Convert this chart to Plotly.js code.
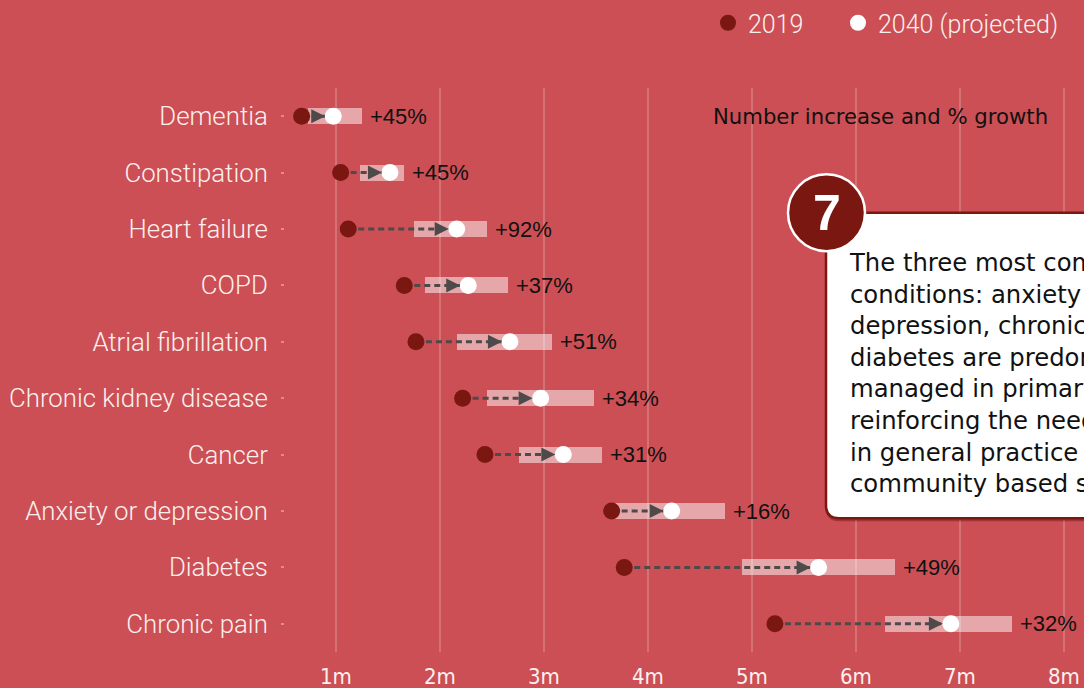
<!DOCTYPE html>
<html>
<head>
<meta charset="utf-8">
<script src="https://cdn.plot.ly/plotly-3.0.1.min.js"></script>
<style>
  html, body { margin: 0; padding: 0; background: #CB4F54; }
  #chart { width: 1084px; height: 688px; }
</style>
</head>
<body>
<div id="chart"></div>
<script>
// ---- Data (millions of people) ----
const conditions = [
  "Dementia", "Constipation", "Heart failure", "COPD", "Atrial fibrillation",
  "Chronic kidney disease", "Cancer", "Anxiety or depression", "Diabetes", "Chronic pain"
];
const values2019 = [0.67, 1.045, 1.118, 1.657, 1.769, 2.218, 2.433, 3.651, 3.772, 5.221];
const values2040 = [0.974, 1.519, 2.161, 2.272, 2.673, 2.968, 3.186, 4.228, 5.641, 6.913];
const rangeLow  = [0.734, 1.231, 1.750, 1.859, 2.161, 2.449, 2.760, 3.683, 4.907, 6.282];
const rangeHigh = [1.247, 1.657, 2.449, 2.657, 3.074, 3.481, 3.555, 4.740, 6.375, 7.503];
const growthLabels = ["+45%", "+45%", "+92%", "+37%", "+51%", "+34%", "+31%", "+16%", "+49%", "+32%"];
const tickValues = [1, 2, 3, 4, 5, 6, 7, 8];
const tickLabels = ["1m", "2m", "3m", "4m", "5m", "6m", "7m", "8m"];
const headerText = "Number increase and % growth";
const calloutNumber = "7";
const calloutLines = [
  "The three most common",
  "conditions: anxiety or",
  "depression, chronic pain and",
  "diabetes are predominantly",
  "managed in primary care,",
  "reinforcing the need for investment",
  "in general practice and",
  "community based services."
];

// ---- Colours ----
const BG = "#CB4F54";
const DARK_RED = "#7A1711";
const ARROW = "#4F4A4A";
const LIGHT_TEXT = "#FCEFEF";

// ---- Layout geometry ----
const M = { l: 285, r: 0, t: 87, b: 36 };
const W = 1084, H = 688;
const PW = W - M.l - M.r, PH = H - M.t - M.b;
const px2x = p => (p - M.l) / PW;
const py2y = p => 1 - (p - M.t) / PH;

// Dashed connector segments
const segX = [], segY = [];
conditions.forEach((c, i) => {
  segX.push(values2019[i], values2040[i], null);
  segY.push(c, c, null);
});

const traces = [
  {
    type: "bar", orientation: "h",
    y: conditions,
    base: rangeLow,
    x: rangeHigh.map((h, i) => h - rangeLow[i]),
    width: 0.285,
    marker: { color: "rgba(255,255,255,0.5)", line: { width: 0 } },
    showlegend: false, hoverinfo: "skip"
  },
  {
    type: "scatter", mode: "lines",
    x: segX, y: segY,
    line: { color: ARROW, width: 3, dash: "6px,4px" },
    showlegend: false, hoverinfo: "skip", connectgaps: false
  },
  {
    type: "scatter", mode: "markers", name: "2019", legend: "legend",
    x: values2019, y: conditions,
    marker: { color: DARK_RED, size: 17 }
  },
  {
    type: "scatter", mode: "markers", name: "2040 (projected)", legend: "legend2",
    x: values2040, y: conditions,
    marker: { color: "#FFFFFF", size: 17 }
  }
];

const annotations = [];
// arrowheads
conditions.forEach((c, i) => {
  annotations.push({
    x: values2040[i], y: c, xref: "x", yref: "y",
    ax: -14, ay: 0, text: "", showarrow: true,
    arrowhead: 2, arrowsize: 1.4, arrowwidth: 2, standoff: 8,
    arrowcolor: ARROW
  });
});
// growth labels
conditions.forEach((c, i) => {
  annotations.push({
    x: rangeHigh[i], y: c, xref: "x", yref: "y",
    text: growthLabels[i], showarrow: false,
    xanchor: "left", yanchor: "middle", xshift: 6,
    font: { family: "Liberation Sans, Arial, sans-serif", size: 22, color: "#111111" }
  });
});
// header
annotations.push({
  x: px2x(1050), y: conditions[0], xref: "paper", yref: "y",
  text: headerText, showarrow: false, xanchor: "right", yanchor: "middle",
  font: { family: "DejaVu Sans, sans-serif", size: 21.2, color: "#111111" }
});
// callout text
annotations.push({
  x: px2x(847), y: py2y(245), xref: "paper", yref: "paper",
  text: calloutLines.join("<br>"), showarrow: false, align: "left",
  xanchor: "left", yanchor: "top",
  font: { family: "DejaVu Sans, sans-serif", size: 24.3, color: "#111111" }
});
// callout number
annotations.push({
  x: px2x(826.5), y: py2y(212), xref: "paper", yref: "paper",
  text: "<b>" + calloutNumber + "</b>", showarrow: false,
  xanchor: "center", yanchor: "middle",
  font: { family: "Liberation Sans, Arial, sans-serif", size: 50, color: "#FFFFFF" }
});

// rounded rectangle path in pixel coords -> paper
function roundedRect(x0, y0, x1, y1, r) {
  const P = (x, y) => px2x(x).toFixed(5) + "," + py2y(y).toFixed(5);
  return "M" + P(x0 + r, y0) + " L" + P(x1 - r, y0) + " Q" + P(x1, y0) + " " + P(x1, y0 + r) +
    " L" + P(x1, y1 - r) + " Q" + P(x1, y1) + " " + P(x1 - r, y1) +
    " L" + P(x0 + r, y1) + " Q" + P(x0, y1) + " " + P(x0, y1 - r) +
    " L" + P(x0, y0 + r) + " Q" + P(x0, y0) + " " + P(x0 + r, y0) + " Z";
}

const shapes = [
  { type: "path", xref: "paper", yref: "paper", path: roundedRect(826, 214, 1140, 521, 13),
    fillcolor: "rgba(110,20,20,0.45)", line: { width: 0 }, layer: "above" },
  { type: "path", xref: "paper", yref: "paper", path: roundedRect(826, 212, 1140, 518, 13),
    fillcolor: "#FFFFFF", line: { color: DARK_RED, width: 2.5 }, layer: "above" },
  { type: "circle", xref: "paper", yref: "paper",
    x0: px2x(826.5 - 38.5), x1: px2x(826.5 + 38.5), y0: py2y(212 + 38.5), y1: py2y(212 - 38.5),
    fillcolor: DARK_RED, line: { color: "#FFFFFF", width: 2.5 }, layer: "above" }
];

const legendFont = { family: "Roboto, sans-serif", weight: 300, size: 25, color: LIGHT_TEXT };
const layout = {
  width: W, height: H,
  margin: M,
  paper_bgcolor: BG, plot_bgcolor: BG,
  showlegend: true,
  legend: {
    orientation: "h", x: px2x(708), xanchor: "left", y: py2y(22), yanchor: "middle",
    xref: "paper", yref: "paper",
    bgcolor: "rgba(0,0,0,0)", itemsizing: "trace", font: legendFont
  },
  legend2: {
    orientation: "h", x: px2x(838), xanchor: "left", y: py2y(22), yanchor: "middle",
    xref: "paper", yref: "paper",
    bgcolor: "rgba(0,0,0,0)", itemsizing: "trace", font: legendFont
  },
  xaxis: {
    range: [0.51, 8.193], tickvals: tickValues, ticktext: tickLabels,
    showgrid: true, gridcolor: "rgba(255,255,255,0.2)", gridwidth: 2,
    zeroline: false, showline: false, ticks: "",
    ticklabelstandoff: 9,
    tickfont: { family: "Liberation Sans Narrow, Arial Narrow, DejaVu Sans Condensed, Roboto, sans-serif", weight: 300, size: 22, color: LIGHT_TEXT }
  },
  yaxis: {
    type: "category", categoryorder: "array", categoryarray: conditions,
    range: [9.5, -0.5], showgrid: false, zeroline: false, showline: false,
    ticks: "outside", ticklen: 3, tickwidth: 2, tickcolor: "rgba(255,255,255,0.35)",
    ticklabelstandoff: 8,
    tickfont: { family: "Roboto, sans-serif", weight: 300, size: 25.8, color: LIGHT_TEXT }
  },
  annotations: annotations,
  shapes: shapes,
  bargap: 0
};

Plotly.newPlot("chart", traces, layout, { staticPlot: true, displayModeBar: false });
</script>
</body>
</html>
